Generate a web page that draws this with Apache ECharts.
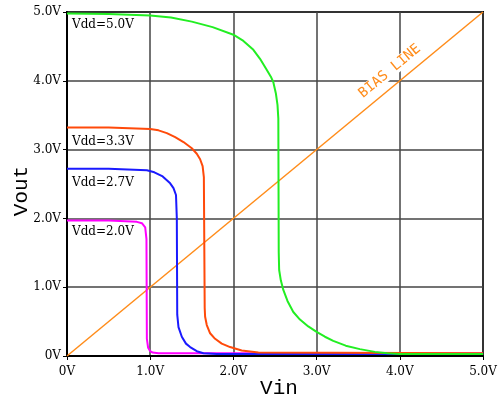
<!DOCTYPE html>
<html><head><meta charset="utf-8">
<script src="https://cdn.jsdelivr.net/npm/echarts@6/dist/echarts.min.js"></script>
<style>html,body{margin:0;padding:0;background:#fff}#c{width:499px;height:399px}</style>
</head><body><div id="c"></div>
<script>
const xTickLabels = ['0V','1.0V','2.0V','3.0V','4.0V','5.0V'];
const yTickLabels = ['0V','1.0V','2.0V','3.0V','4.0V','5.0V'];

const vdd50X = [0, 0.5, 1.0, 1.25, 1.5, 1.75, 2.0, 2.12, 2.24, 2.32, 2.4, 2.45, 2.48, 2.51, 2.53, 2.54, 2.545, 2.55, 2.57, 2.6, 2.65, 2.72, 2.8, 2.9, 3.0, 3.1, 3.2, 3.35, 3.52, 3.7, 3.85, 4.0, 5.0];
const vdd50Y = [4.98, 4.97, 4.95, 4.92, 4.86, 4.78, 4.67, 4.58, 4.45, 4.32, 4.16, 4.06, 3.98, 3.82, 3.65, 3.45, 1.5, 1.25, 1.1, 0.96, 0.8, 0.64, 0.53, 0.43, 0.35, 0.28, 0.22, 0.15, 0.10, 0.06, 0.04, 0.03, 0.03];

const vdd33X = [0, 0.5, 1.0, 1.1, 1.2, 1.3, 1.4, 1.5, 1.56, 1.6, 1.63, 1.645, 1.655, 1.66, 1.68, 1.72, 1.78, 1.86, 1.96, 2.1, 2.3, 5.0];
const vdd33Y = [3.32, 3.32, 3.30, 3.28, 3.24, 3.18, 3.11, 3.02, 2.94, 2.86, 2.76, 2.6, 0.7, 0.57, 0.45, 0.33, 0.25, 0.18, 0.13, 0.08, 0.05, 0.04];

const vdd27X = [0, 0.5, 0.96, 1.05, 1.15, 1.24, 1.28, 1.31, 1.32, 1.325, 1.34, 1.38, 1.43, 1.48, 1.56, 1.64, 1.8, 5.0];
const vdd27Y = [2.72, 2.72, 2.70, 2.67, 2.61, 2.51, 2.44, 2.34, 2.0, 0.6, 0.42, 0.28, 0.18, 0.13, 0.07, 0.04, 0.03, 0.03];

const vdd20X = [0, 0.5, 0.84, 0.9, 0.94, 0.955, 0.96, 0.975, 1.0, 1.03, 1.1, 1.5, 5.0];
const vdd20Y = [1.97, 1.97, 1.95, 1.93, 1.87, 1.7, 0.25, 0.12, 0.07, 0.05, 0.04, 0.04, 0.04];

const biasX = [0, 5];
const biasY = [0, 5];

const curveNames = ['Vdd=2.0V', 'Vdd=2.7V', 'Vdd=3.3V', 'Vdd=5.0V'];
const curveVdd = [2.0, 2.7, 3.3, 5.0];
const curveColors = ['#ff00ff', '#1a1aff', '#ff4a0a', '#22ee22'];

const zip = (xs, ys) => xs.map((x, i) => [x, ys[i]]);
const curves = [zip(vdd20X, vdd20Y), zip(vdd27X, vdd27Y), zip(vdd33X, vdd33Y), zip(vdd50X, vdd50Y)];

const chart = echarts.init(document.getElementById('c'));
const labelFont = {fontFamily: 'DejaVu Serif', fontSize: 12, color: '#000'};

const series = [{
  type: 'line', name: 'bias', data: zip(biasX, biasY), showSymbol: false, silent: true,
  lineStyle: {color: '#ff8c1a', width: 1.5}, z: 3,
  markPoint: {
    symbol: 'rect', symbolSize: 0, silent: true,
    data: [{coord: [3.88, 4.14], value: 'BIAS LINE'}],
    label: {show: true, formatter: 'BIAS LINE', rotate: 39.6, fontFamily: 'DejaVu Sans Mono', fontSize: 14,
      color: '#ff8c1a', backgroundColor: '#fff', padding: [0, 2]}
  }
}];
curves.forEach((d, i) => {
  series.push({
    type: 'line', name: curveNames[i], data: d, showSymbol: false, silent: true,
    lineStyle: {color: curveColors[i], width: 2}, z: 4 + i,
    markPoint: {
      symbol: 'rect', symbolSize: 0, silent: true,
      data: [{coord: [0, curveVdd[i]], value: curveNames[i]}],
      label: {show: true, formatter: curveNames[i], position: 'insideTopLeft', offset: [0, 2], ...labelFont}
    }
  });
});

chart.setOption({
  animation: false,
  backgroundColor: '#fff',
  grid: {left: 67, top: 12, width: 416, height: 344, outerBoundsMode: 'none', containLabel: false,
    show: true, borderColor: '#000', borderWidth: 2, backgroundColor: 'transparent'},
  xAxis: {
    type: 'value', min: 0, max: 5, interval: 1,
    name: 'Vin', nameLocation: 'middle', nameGap: 22, nameMoveOverlap: false,
    nameTextStyle: {fontFamily: 'Liberation Mono', fontSize: 21, color: '#000', padding: [0, 0, 0, 8]},
    axisLine: {show: true, lineStyle: {color: '#000', width: 2}},
    axisTick: {show: true, length: 4, lineStyle: {color: '#000', width: 1}},
    axisLabel: {formatter: (v) => xTickLabels[Math.round(v)], margin: 10, ...labelFont},
    splitLine: {show: true, lineStyle: {color: '#444', width: 1.5}}
  },
  yAxis: {
    type: 'value', min: 0, max: 5, interval: 1,
    name: 'Vout', nameLocation: 'middle', nameGap: 35, nameMoveOverlap: false,
    nameTextStyle: {fontFamily: 'Liberation Mono', fontSize: 21, color: '#000', padding: [0, 14, 0, 0]},
    axisLine: {show: true, lineStyle: {color: '#000', width: 2}},
    axisTick: {show: true, length: 4, lineStyle: {color: '#000', width: 1}},
    axisLabel: {formatter: (v) => yTickLabels[Math.round(v)], margin: 6, ...labelFont},
    splitLine: {show: true, lineStyle: {color: '#444', width: 1.5}}
  },
  series: series
});
</script></body></html>
